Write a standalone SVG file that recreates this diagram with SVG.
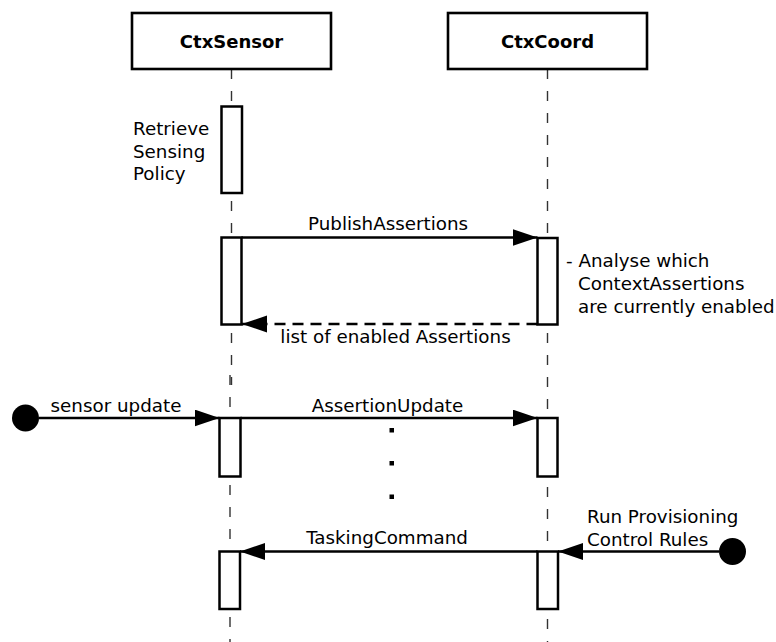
<svg xmlns="http://www.w3.org/2000/svg" width="776" height="642" viewBox="0 0 776 642">
<style>
text{font-family:"DejaVu Sans","Liberation Sans",sans-serif;font-size:18.3px;fill:#000}
.title{font-weight:bold;font-size:18px}
.head{fill:#fff;stroke:#000;stroke-width:2.6}
.life{stroke:#333;stroke-width:1.4;stroke-dasharray:10,12;fill:none}
.act{fill:#fff;stroke:#000;stroke-width:2.5}
.msg{stroke:#000;stroke-width:2.5;fill:none;marker-end:url(#ah)}
.ret{stroke-dasharray:11,7}
.mid{text-anchor:middle}
</style>
<defs>
<marker id="ah" markerUnits="userSpaceOnUse" markerWidth="26" markerHeight="18" refX="25" refY="8.5" orient="auto">
<path d="M0,0 L25,8.5 L0,17 z" fill="#000"/>
</marker>
</defs>
<rect width="776" height="642" fill="#fff"/>
<g id="CtxSensor">
<line class="life" x1="231.5" y1="69" x2="231.5" y2="385"/>
<line class="life" x1="230" y1="375" x2="230" y2="642"/>
<rect class="head" x="132" y="13" width="199" height="56"/>
<text class="title mid" x="231.5" y="48">CtxSensor</text>
<rect class="act" x="221.5" y="106.5" width="20.5" height="86.5"/>
<rect class="act" x="221.5" y="237.5" width="20" height="87"/>
<rect class="act" x="219.5" y="418" width="21" height="58.5"/>
<rect class="act" x="219.5" y="551.5" width="20.5" height="57.5"/>
</g>
<g id="CtxCoord">
<line class="life" x1="547.5" y1="69" x2="547.5" y2="642"/>
<rect class="head" x="448" y="13" width="199" height="56"/>
<text class="title mid" x="547.5" y="48">CtxCoord</text>
<rect class="act" x="537.5" y="238" width="20" height="86.5"/>
<rect class="act" x="537.5" y="418" width="20" height="58.5"/>
<rect class="act" x="537.5" y="551.5" width="20.5" height="57.5"/>
</g>
<g id="start-sensor"><circle cx="25.5" cy="418" r="13.5" fill="#000"/></g>
<g id="start-rules"><circle cx="732.5" cy="551.5" r="13.5" fill="#000"/></g>
<g id="notes">
<text x="133" y="135">Retrieve</text>
<text x="133" y="157.5">Sensing</text>
<text x="133" y="180">Policy</text>
<text x="566" y="266.5">- Analyse which</text>
<text x="578" y="290">ContextAssertions</text>
<text x="578" y="313">are currently enabled</text>
<text x="587" y="523">Run Provisioning</text>
<text x="587" y="545.5">Control Rules</text>
</g>
<g id="connectors">
<line class="msg" x1="241.5" y1="237.5" x2="537.5" y2="237.5"/>
<text class="mid" x="388" y="230">PublishAssertions</text>
<line class="msg ret" x1="537.5" y1="324" x2="242" y2="324"/>
<text class="mid" x="395.5" y="343">list of enabled Assertions</text>
<line class="msg" x1="39" y1="418" x2="219.5" y2="418"/>
<text class="mid" x="116" y="412">sensor update</text>
<line class="msg" x1="240.5" y1="418" x2="537.5" y2="418"/>
<text class="mid" x="387.5" y="412">AssertionUpdate</text>
<line class="msg" x1="537.5" y1="551.5" x2="240" y2="551.5"/>
<text class="mid" x="387" y="544">TaskingCommand</text>
<line class="msg" x1="719" y1="551.5" x2="558" y2="551.5"/>
<rect x="389.5" y="428" width="4.5" height="4.5" fill="#000"/>
<rect x="389.5" y="461" width="4.5" height="4.5" fill="#000"/>
<rect x="389.5" y="494.5" width="4.5" height="4.5" fill="#000"/>
</g>
</svg>
